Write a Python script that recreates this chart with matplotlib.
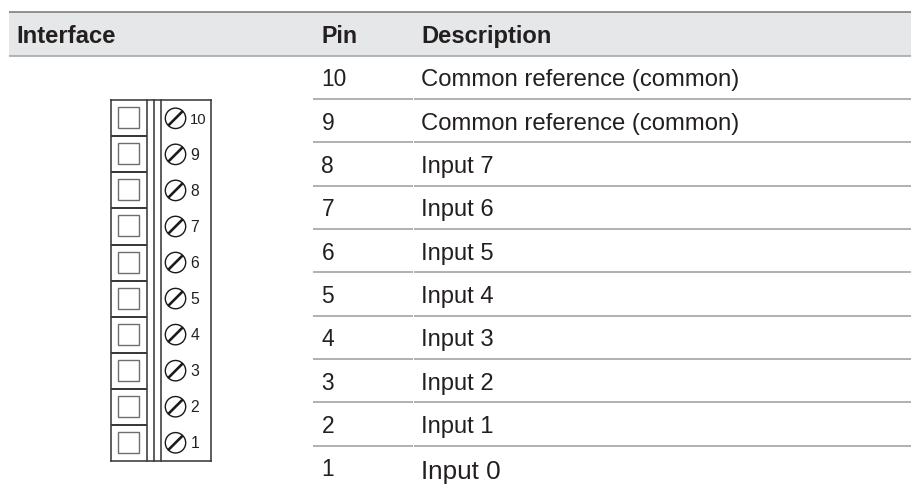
import matplotlib
matplotlib.use("Agg")
import matplotlib.pyplot as plt
from matplotlib.patches import Rectangle, Circle

plt.rcParams['font.family'] = ['Liberation Sans', 'DejaVu Sans']

headers = ["Interface", "Pin", "Description"]
pins = ["10", "9", "8", "7", "6", "5", "4", "3", "2", "1"]
descriptions = ["Common reference (common)", "Common reference (common)",
                "Input 7", "Input 6", "Input 5", "Input 4",
                "Input 3", "Input 2", "Input 1", "Input 0"]

W, H = 912, 501
TEXT = "#231f20"
RULE = "#97999b"
INK = "#3a3a3c"

fig = plt.figure(figsize=(W / 100, H / 100), dpi=100)
ax = fig.add_axes([0, 0, 1, 1])
ax.set_xlim(0, W)
ax.set_ylim(H, 0)
ax.axis("off")

px = 72 / 100  # points per pixel

# Header band
ax.add_patch(Rectangle((9, 12), W - 9, 44, fc="#e6e7e8", ec="none", zorder=1))
ax.plot([9, W], [11.7, 11.7], color="#808285", lw=1.7 * px, zorder=2, solid_capstyle="butt")
ax.plot([9, W], [55.7, 55.7], color="#a7a9ac", lw=1.7 * px, zorder=2, solid_capstyle="butt")
ax.text(16.5, 42.7, headers[0], fontsize=23.9 * px, fontweight="bold", color=TEXT)
ax.text(321.5, 42.7, headers[1], fontsize=23.2 * px, fontweight="bold", color=TEXT)
ax.text(421.5, 42.7, headers[2], fontsize=23.7 * px, fontweight="bold", color=TEXT)

# Table rows
row_h = 43.33
for i, (pin, desc) in enumerate(zip(pins, descriptions)):
    top = 55.7 + i * row_h
    if i > 0:
        ax.plot([313, 412.7], [top, top], color=RULE, lw=1.5 * px, solid_capstyle="butt")
        ax.plot([413.7, W], [top, top], color=RULE, lw=1.5 * px, solid_capstyle="butt")
    last = i == len(pins) - 1
    ax.text(321.5, top + (30.5 if not last else 30.8), pin, fontsize=22.8 * px, color=TEXT)
    ax.text(421.5, top + (30.5 if not last else 33), desc,
            fontsize=(26 if last else 23.9 if i < 2 else 23.7) * px, color=TEXT)

# Connector drawing
x0, x1, x2, x3, x4 = 111, 146.7, 153.7, 161, 210.7
y_top = 100.3
cell = 36.05
y_bot = y_top + cell * len(pins)
lw = 1.6 * px
for x in (x0, x1, x2, x3, x4):
    ax.plot([x, x], [y_top, y_bot], color=INK, lw=lw, solid_capstyle="projecting")
ax.plot([x0, x4], [y_top, y_top], color=INK, lw=lw)
ax.plot([x0, x4], [y_bot, y_bot], color=INK, lw=lw)
for i, pin in enumerate(pins):
    t = y_top + i * cell
    if i > 0:
        ax.plot([x0, x1], [t, t], color=INK, lw=2.0 * px, solid_capstyle="butt")
    ax.add_patch(Rectangle((118, t + 7), 21, 21, fc="white", ec="#6d6e71", lw=1.4 * px))
    cy = t + cell / 2
    cx = 175.5
    ax.add_patch(Circle((cx, cy), 10.2, fc="white", ec="#1a1a1a", lw=1.4 * px))
    ax.plot([cx - 7.2, cx + 7.2], [cy + 7.2, cy - 7.2], color="#1a1a1a", lw=2.6 * px,
            solid_capstyle="butt")
    ax.text(190.3, cy + 5.5, pin, fontsize=(14.8 if i == 0 else 15.8) * px, color=TEXT)

fig.savefig("out.png", dpi=100, facecolor="white")
